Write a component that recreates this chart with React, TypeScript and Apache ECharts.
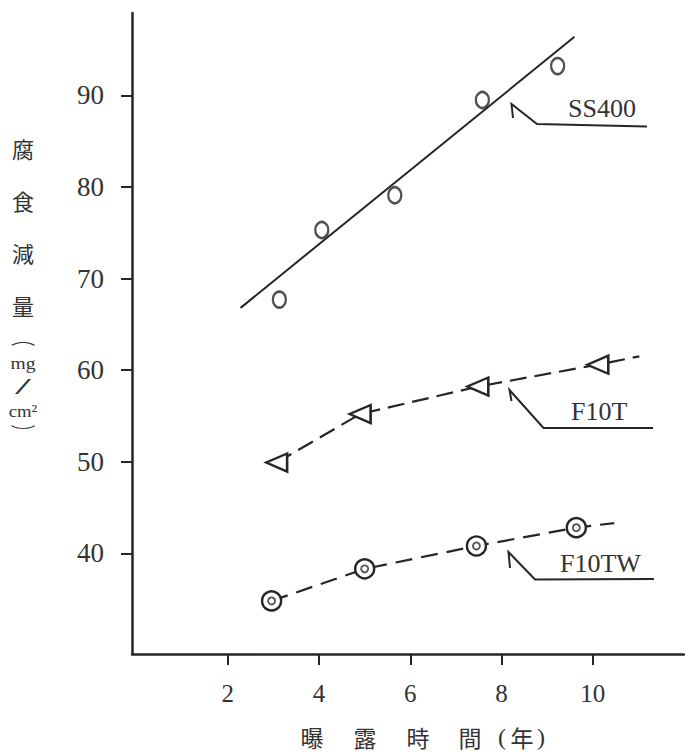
import React, { useEffect, useRef } from "react";
import * as echarts from "echarts";

// Axis ticks
const xTicks = [2, 4, 6, 8, 10];
const yTicks = [40, 50, 60, 70, 80, 90];

// SS400 measured points and fitted line
const ss400X = [3.13, 4.06, 5.66, 7.58, 9.23];
const ss400Y = [67.7, 75.3, 79.1, 89.5, 93.2];
const ss400FitX = [2.28, 9.6];
const ss400FitY = [66.8, 96.4];

// F10T points (+ extension of dashed curve)
const f10tX = [3.07, 4.9, 7.48, 10.11];
const f10tY = [49.9, 55.2, 58.2, 60.6];
const f10tExt = [11.02, 61.5];

// F10TW points (+ extension of dashed curve)
const f10twX = [2.96, 5.0, 7.45, 9.64];
const f10twY = [34.8, 38.3, 40.8, 42.8];
const f10twExt = [10.47, 43.3];

const seriesNames = ["SS400", "F10T", "F10TW"];
const yTitleParts = ["腐", "食", "減", "量", "︵", "mg", "/", "cm²", "︶"];
const xTitleChars = ["曝", "露", "時", "間", "(", "年", ")"];

const INK = "#262626";
const SERIF = '"Liberation Serif", "DejaVu Serif", serif';
const CJK = '"Noto Sans CJK JP", "Noto Sans CJK SC", sans-serif';

function txt(text: string, x: number, y: number, size: number, family: string, align = "center", scaleX = 1) {
  return {
    type: "text",
    silent: true,
    x,
    y,
    scaleX,
    style: {
      text,
      x: 0,
      y: 0,
      fontSize: size,
      fontFamily: family,
      fill: "#333333",
      align,
      verticalAlign: "middle",
      textAlign: align,
      textVerticalAlign: "middle",
    },
  };
}

function leader(points: number[][]) {
  return {
    type: "polyline",
    silent: true,
    shape: { points },
    style: { stroke: INK, lineWidth: 2, fill: null },
  };
}

export default function App() {
  const ref = useRef<HTMLDivElement>(null);
  useEffect(() => {
    document.body.style.margin = "0";
    const chart = echarts.init(ref.current!, null, { renderer: "svg" });

    const yTitleY = [148, 200, 252, 305, 338, 363, 386, 411, 431];
    const yTitleSize = [22, 22, 22, 22, 13, 17, 24, 17, 14];
    const yTitleScaleX = [1, 1, 1, 1, 1.9, 1.15, 2.4, 1.1, 1.8];
    const yTitleFamily = [CJK, CJK, CJK, CJK, CJK, SERIF, SERIF, SERIF, CJK];
    const xTitleX = [312, 365, 418, 470, 502, 522, 541];

    const graphic: any[] = [];
    yTitleParts.forEach((c, i) =>
      graphic.push(txt(c, 23, yTitleY[i], yTitleSize[i], yTitleFamily[i], "center", yTitleScaleX[i]))
    );
    xTitleChars.forEach((c, i) =>
      graphic.push(txt(c, xTitleX[i], 737, c === "(" || c === ")" ? 24 : 23, c === "(" || c === ")" ? SERIF : CJK))
    );
    graphic.push(txt(seriesNames[0], 568, 108, 26, SERIF, "left"));
    graphic.push(txt(seriesNames[1], 571, 411, 26, SERIF, "left"));
    graphic.push(txt(seriesNames[2], 560, 563, 26, SERIF, "left"));
    graphic.push(leader([[513, 118], [511.5, 104], [537, 124], [647, 126.5]]));
    graphic.push(leader([[511.5, 401], [509.5, 390], [543.5, 428], [653, 428]]));
    graphic.push(leader([[510, 568], [508.5, 552], [535, 579.5], [654, 579]]));

    const f10tData: any[] = f10tX.map((x, i) => [x, f10tY[i]]);
    f10tData.push({ value: f10tExt, symbol: "none" });
    const f10twData: any[] = f10twX.map((x, i) => [x, f10twY[i]]);
    f10twData.push({ value: f10twExt, symbol: "none" });

    chart.setOption({
      animation: false,
      backgroundColor: "#ffffff",
      grid: {
        left: 132,
        top: 13,
        width: 552,
        height: 641,
        containLabel: false,
        outerBoundsMode: "none",
      },
      xAxis: {
        type: "value",
        min: -0.1,
        max: 12,
        splitLine: { show: false },
        axisLine: { show: true, onZero: false, lineStyle: { color: INK, width: 2.5 } },
        axisTick: { show: true, length: 11, customValues: xTicks, lineStyle: { color: INK, width: 2 } },
        axisLabel: {
          customValues: xTicks,
          margin: 27,
          fontSize: 25,
          fontFamily: SERIF,
          color: "#333333",
        },
      },
      yAxis: {
        type: "value",
        min: 29,
        max: 99,
        splitLine: { show: false },
        axisLine: { show: true, onZero: false, lineStyle: { color: INK, width: 2.5 } },
        axisTick: { show: true, length: 11, customValues: yTicks, lineStyle: { color: INK, width: 2 } },
        axisLabel: {
          customValues: yTicks,
          margin: 28,
          fontSize: 27,
          fontFamily: SERIF,
          color: "#333333",
        },
      },
      series: [
        {
          name: seriesNames[0] + " fit",
          type: "line",
          data: ss400FitX.map((x, i) => [x, ss400FitY[i]]),
          symbol: "none",
          lineStyle: { color: INK, width: 2 },
          z: 2,
        },
        {
          name: seriesNames[0],
          type: "scatter",
          data: ss400X.map((x, i) => [x, ss400Y[i]]),
          symbol: "circle",
          symbolSize: [13, 16],
          itemStyle: { color: "#ffffff", borderColor: INK, borderWidth: 2.4 },
          z: 3,
        },
        {
          name: seriesNames[1],
          type: "line",
          data: f10tData,
          symbol: "triangle",
          symbolRotate: 90,
          symbolSize: [18, 21],
          showAllSymbol: true,
          itemStyle: { color: "#ffffff", borderColor: INK, borderWidth: 2.4 },
          lineStyle: { color: INK, width: 2.2, type: [17, 8] },
          z: 3,
        },
        {
          name: seriesNames[2],
          type: "line",
          data: f10twData,
          symbol: "circle",
          symbolSize: 19,
          showAllSymbol: true,
          itemStyle: { color: "#ffffff", borderColor: INK, borderWidth: 2.4 },
          lineStyle: { color: INK, width: 2.2, type: [17, 9] },
          z: 3,
        },
        {
          name: seriesNames[2] + " inner",
          type: "scatter",
          data: f10twX.map((x, i) => [x, f10twY[i]]),
          symbol: "circle",
          symbolSize: 7,
          itemStyle: { color: "#ffffff", borderColor: INK, borderWidth: 1.8 },
          z: 4,
        },
      ],
      graphic,
    });
    return () => chart.dispose();
  }, []);
  return <div ref={ref} style={{ width: 685, height: 755 }} />;
}
